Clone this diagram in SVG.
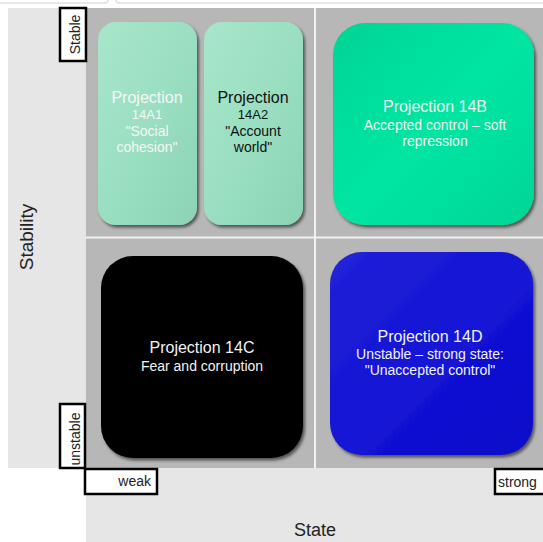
<svg xmlns="http://www.w3.org/2000/svg" width="543" height="542" viewBox="0 0 543 542">
<style>
.lbl{fill:#fff;stroke:#000;stroke-width:2.5}
.t{font-family:"Liberation Sans",Arial,sans-serif;text-anchor:middle}
.big{font-size:16px}
.sm{font-size:14px}
.xs{font-size:13px}
.ax{font-family:"Liberation Sans",Arial,sans-serif;font-size:14px;fill:#222}
.w{fill:#f2f2f2}
</style>
<defs>
<filter id="sh" x="-10%" y="-10%" width="125%" height="125%">
<feDropShadow dx="2" dy="2.5" stdDeviation="1.5" flood-color="#000" flood-opacity="0.55"/>
</filter>
<linearGradient id="mint" x1="0" y1="0" x2="1" y2="1">
<stop offset="0" stop-color="#a8e6cc"/>
<stop offset="0.5" stop-color="#9adfc2"/>
<stop offset="1" stop-color="#8cd2b4"/>
</linearGradient>
<linearGradient id="green" x1="0" y1="0" x2="1" y2="1">
<stop offset="0" stop-color="#00d494"/>
<stop offset="0.5" stop-color="#00e6a2"/>
<stop offset="1" stop-color="#00d596"/>
</linearGradient>
<linearGradient id="blue" x1="0" y1="0" x2="1" y2="1">
<stop offset="0" stop-color="#2222d8"/>
<stop offset="0.5" stop-color="#1414d6"/>
<stop offset="1" stop-color="#0808c8"/>
</linearGradient>
</defs>
<rect width="543" height="542" fill="#fff"/>
<!-- top strip -->
<g id="topstrip">
<rect x="-6" y="-10" width="114" height="13" rx="3" fill="#fff" stroke="#cfcfcf"/>
<rect x="116" y="-10" width="440" height="13" rx="3" fill="#fff" stroke="#cfcfcf"/>
</g>
<!-- panels -->
<g id="panels">
<rect x="8" y="8" width="78" height="460" fill="#e6e6e6"/>
<rect x="86" y="468" width="457" height="74" fill="#e6e6e6"/>
<rect x="86" y="8" width="457" height="460" fill="#b7b7b7"/>
<rect x="314" y="8" width="2" height="460" fill="#f2f2f2"/>
<rect x="86" y="236.5" width="457" height="2" fill="#f2f2f2"/>
</g>
<g id="connectors"></g>
<g id="n14A1">
<rect x="98" y="22" width="99" height="203" rx="18" fill="url(#mint)" filter="url(#sh)"/>
<text class="t big" x="147" y="103" fill="#f6f6f6">Projection</text>
<text class="t xs" x="147" y="119" fill="#f6f6f6">14A1</text>
<text class="t sm" x="147" y="136" fill="#f6f6f6">"Social</text>
<text class="t sm" x="147" y="152" fill="#f6f6f6">cohesion"</text>
</g>
<g id="n14A2">
<rect x="204" y="22" width="99" height="203" rx="18" fill="url(#mint)" filter="url(#sh)"/>
<text class="t big" x="253" y="103" fill="#111">Projection</text>
<text class="t xs" x="253" y="119" fill="#111">14A2</text>
<text class="t sm" x="253" y="136" fill="#111">"Account</text>
<text class="t sm" x="253" y="152" fill="#111">world"</text>
</g>
<g id="n14B">
<rect x="333" y="23" width="201" height="202" rx="32" fill="url(#green)" filter="url(#sh)"/>
<text class="t big w" x="435" y="112">Projection 14B</text>
<text class="t sm w" x="435" y="130">Accepted control – soft</text>
<text class="t sm w" x="435" y="146">repression</text>
</g>
<g id="n14C">
<rect x="101" y="256" width="202" height="202" rx="32" fill="#000" filter="url(#sh)"/>
<text class="t big w" x="202" y="353">Projection 14C</text>
<text class="t sm w" x="202" y="371">Fear and corruption</text>
</g>
<g id="n14D">
<rect x="330" y="252" width="203" height="203" rx="32" fill="url(#blue)" filter="url(#sh)"/>
<text class="t big w" x="430" y="342">Projection 14D</text>
<text class="t sm w" x="430" y="359">Unstable – strong state:</text>
<text class="t sm w" x="430" y="375">"Unaccepted control"</text>
</g>
<!-- axis labels -->
<g id="stable">
<rect class="lbl" x="60" y="8" width="26" height="53"/>
<text class="ax" text-anchor="middle" transform="translate(79.5 34.5) rotate(-90)">Stable</text>
</g>
<g id="unstable">
<rect class="lbl" x="60" y="404" width="25" height="64"/>
<text class="ax" text-anchor="middle" transform="translate(79.5 439) rotate(-90)">unstable</text>
</g>
<g id="weak">
<rect class="lbl" x="85" y="469" width="72" height="25"/>
<text class="ax" text-anchor="end" x="151" y="486">weak</text>
</g>
<g id="strong">
<rect class="lbl" x="495" y="469" width="54" height="25"/>
<text class="ax" x="498" y="487">strong</text>
</g>
<g id="stability">
<text font-family="Liberation Sans, Arial, sans-serif" font-size="19" fill="#222" text-anchor="middle" transform="translate(33 237) rotate(-90)">Stability</text>
</g>
<g id="state">
<text font-family="Liberation Sans, Arial, sans-serif" font-size="18" fill="#222" text-anchor="middle" x="315" y="536">State</text>
</g>
</svg>
